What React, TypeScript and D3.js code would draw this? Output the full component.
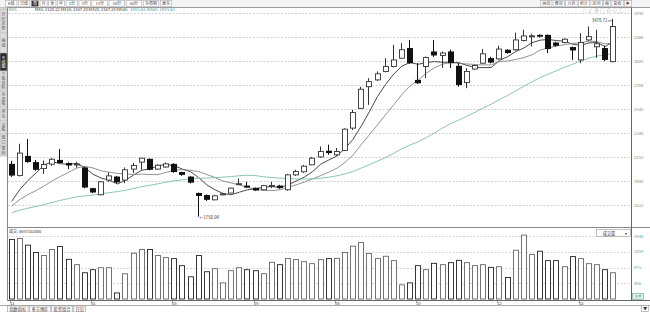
import React from "react";
import * as d3 from "d3";

const W = 650;
const H = 312;

// weekly OHLC
const opens = [
  2102, 2018, 2161, 2115, 2069, 2100, 2131, 2108, 2097, 2076,
  1932, 1888, 1987, 2011, 1987, 2064, 2115, 2139, 2064, 2079,
  2102, 2043, 2011, 1900, 1886, 1855, 1890, 1899, 1958, 1949,
  1934, 1921, 1947, 1949, 1921, 2023, 2045, 2095, 2153, 2200,
  2169, 2202, 2380, 2549, 2748, 2814, 2898, 2948, 3034, 3143,
  2814, 2948, 3106, 3063, 3106, 2955, 2787, 2922, 2982, 3035,
  3027, 3125, 3125, 3226, 3276, 3290, 3290, 3204, 3204, 3154,
  3016, 3233, 3157, 3143, 2998,
];
const highs = [
  2124, 2254, 2291, 2131, 2126, 2144, 2213, 2113, 2117, 2081,
  1934, 1980, 2040, 2016, 2076, 2108, 2146, 2142, 2099, 2111,
  2106, 2045, 2016, 1902, 1890, 1888, 1901, 1934, 1999, 1975,
  1936, 1954, 1975, 1954, 2030, 2059, 2095, 2153, 2233, 2247,
  2221, 2378, 2535, 2748, 2831, 2898, 3034, 3179, 3197, 3233,
  2982, 3052, 3233, 3106, 3125, 2982, 2932, 2965, 3132, 3049,
  3168, 3130, 3317, 3349, 3302, 3296, 3296, 3212, 3252, 3160,
  3310, 3388, 3349, 3168, 3478.72,
];
const lows = [
  2009, 2012, 2110, 2052, 2030, 2088, 2102, 2064, 2074, 1931,
  1898, 1885, 1975, 1965, 1965, 2035, 2059, 2056, 2059, 2074,
  2038, 2016, 1964, 1750.04, 1848, 1852, 1885, 1898, 1954, 1934,
  1914, 1917, 1932, 1927, 1914, 2016, 2038, 2092, 2146, 2169,
  2161, 2200, 2365, 2543, 2580, 2804, 2890, 2940, 3027, 2975,
  2774, 2831, 3048, 2932, 2932, 2748, 2734, 2915, 2975, 2980,
  3021, 3081, 3114, 3217, 3160, 3261, 3089, 3157, 3195, 3016,
  2982, 3222, 3038, 3005, 2990,
];
const closes = [
  2018, 2182, 2115, 2059, 2097, 2136, 2108, 2090, 2101, 1936,
  1903, 1975, 2016, 1971, 2059, 2090, 2144, 2059, 2092, 2102,
  2043, 2023, 1969, 1880, 1855, 1881, 1894, 1932, 1962, 1936,
  1916, 1949, 1950, 1932, 2023, 2047, 2085, 2144, 2194, 2182,
  2194, 2371, 2512, 2724, 2797, 2874, 2948, 3016, 3125, 2982,
  2781, 3041, 3063, 3089, 2982, 2764, 2898, 2958, 3081, 2988,
  3132, 3089, 3233, 3278, 3280, 3270, 3132, 3168, 3241, 3117,
  3204, 3270, 3190, 3016, 3388,
];
// closes of the weeks before the visible window (estimated from where the averages start)
const warmupCloses = [
  1720, 1735, 1748, 1730, 1712, 1725, 1744, 1760, 1752, 1738,
  1746, 1765, 1780, 1771, 1758, 1762, 1775, 1790, 1782, 1770,
  1776, 1788, 1795, 1784, 1790, 1797, 1805, 1798, 1808,
];
const volumes = [
  1841, 1872, 1663, 1435, 1342, 1529, 1622, 1226, 1061, 811,
  905, 967, 967, 187, 780, 1413, 1529, 1529, 1342, 1279,
  1248, 1030, 686, 1342, 842, 936, 499, 874, 967, 905,
  874, 780, 1133, 1061, 1248, 1217, 1154, 1092, 1217, 1248,
  1257, 1435, 1632, 1747, 1404, 1248, 1320, 1186, 437, 499,
  1030, 905, 1101, 1061, 1123, 1195, 1123, 1030, 1061, 977,
  998, 665, 1507, 1975, 1373, 1476, 1186, 1186, 998, 1310,
  1248, 1092, 1061, 905, 811,
];
const priceTicks = [3550, 3266, 3005, 2764, 2543, 2340, 2153, 1980, 1822];
const volTicks = [486, 973, 1459, 1946];
const monthIdx = [0, 10, 20, 30, 40, 50, 60, 70];
const monthLabels = ["11", "01", "03", "05", "08", "10", "12", "02"];
const maPeriods = [5, 10, 30];
const maColors = ["#1a1a1a", "#777777", "#6db5a8"];

const periodButtons = ["K线", "日线", "周", "月", "季", "年", "1分", "5分", "15分", "30分", "60分", "多周期", "更多"];
const rightButtons = ["画线", "叠加", "九转", "统计", "区间", "缩", "复权", "▶"];
const sideTabs = [
  { t: "应用", a: 0, b: 10, dark: false },
  { t: "分时走势", a: 10, b: 33, dark: false },
  { t: "画线", a: 33, b: 53, dark: false },
  { t: "K线图", a: 53, b: 71, dark: true },
  { t: "个股资料", a: 71, b: 91, dark: false },
  { t: "自选股", a: 91, b: 107, dark: false },
  { t: "排名", a: 107, b: 121, dark: false },
  { t: "诊股", a: 121, b: 134, dark: false },
  { t: "盘口", a: 134, b: 146, dark: false },
  { t: "筹码", a: 146, b: 156, dark: false },
];
const bottomTabs = ["指数指标", "多方博弈", "投资组合", "日记"];

const FONT = "'Noto Sans CJK SC', 'Noto Sans', sans-serif";

export default function App() {
  const n = closes.length;
  const x = d3.scalePoint<number>().domain(d3.range(n)).range([7.6, 617.35]).padding(0.5);
  const y = d3.scaleLog().domain([3550, 1822]).range([13, 205]);
  const vy = d3.scaleLinear().domain([0, 1946]).range([299, 236]);

  const all = warmupCloses.concat(closes);
  const off = warmupCloses.length;
  const maSeries = maPeriods.map((p) =>
    closes.map((_, i) => d3.mean(all.slice(off + i - p + 1, off + i + 1)) as number)
  );
  const line = d3
    .line<number>()
    .x((_, i) => x(i) as number)
    .y((v) => y(v));

  const hiIdx = d3.maxIndex(highs);
  const loIdx = d3.minIndex(lows);

  let bx = 5;
  const btns = periodButtons.map((t) => {
    const w = t.length * 4.2 + 3;
    const r = { t, x: bx, w };
    bx += w + 1.5;
    return r;
  });
  let rx = 540;
  const rbtns = rightButtons.map((t) => {
    const w = t.length * 4.2 + 3;
    const r = { t, x: rx, w };
    rx += w + 1.2;
    return r;
  });

  return (
    <svg width={W} height={H} style={{ display: "block", position: "absolute", left: 0, top: 0, background: "#fff" }} fontFamily={FONT}>
      <rect x={0} y={0} width={W} height={H} fill="#ffffff" />

      {/* top toolbar */}
      <rect x={0} y={0} width={W} height={7.5} fill="#f4f4f4" />
      {btns.map((b, i) => (
        <g key={"b" + i}>
          <rect x={b.x + 0.5} y={0.5} width={b.w} height={6} fill={b.t === "周" ? "#333" : "#fff"} stroke="#aaa" strokeWidth={0.6} />
          <text x={b.x + 0.5 + b.w / 2} y={5.3} fontSize={4} textAnchor="middle" fill={b.t === "周" ? "#fff" : "#444"}>{b.t}</text>
        </g>
      ))}
      {rbtns.map((b, i) => (
        <g key={"r" + i}>
          <rect x={b.x + 0.5} y={0.5} width={b.w} height={6} fill="#fff" stroke="#aaa" strokeWidth={0.6} />
          <text x={b.x + 0.5 + b.w / 2} y={5.3} fontSize={4} textAnchor="middle" fill="#555">{b.t}</text>
        </g>
      ))}
      <text x={582} y={12} fontSize={4.5} fill="#999" letterSpacing={1.6}>◇∠⊕○⊖◎□◯</text>
      <line x1={0} x2={W} y1={7.5} y2={7.5} stroke="#999" strokeWidth={1} />

      {/* side tabs */}
      <rect x={0} y={7.5} width={7} height={149} fill="#dcdcdc" />
      {sideTabs.map((s, i) => {
        const chars = s.t.split("");
        const a = Math.max(s.a, 7.5);
        const mid = (a + s.b) / 2;
        const step = Math.min(4.6, (s.b - a - 1) / chars.length);
        const fs = Math.min(4, step * 0.9);
        return (
          <g key={"s" + i}>
            <rect x={0} y={a} width={7} height={s.b - a} fill={s.dark ? "#2b2b2b" : "#dcdcdc"} stroke="#bbb" strokeWidth={0.5} />
            {chars.map((c, j) => (
              <text key={j} x={3.5} y={mid - ((chars.length - 1) * step) / 2 + j * step + fs * 0.38} fontSize={fs} textAnchor="middle" fill={s.dark ? "#fff" : "#555"}>{c}</text>
            ))}
          </g>
        );
      })}

      {/* info line */}
      <text x={8.5} y={11.3} fontSize={4} fill="#3c9a9a">MA5</text>
      <text x={35} y={11.3} fontSize={4} fill="#333" textLength={93} lengthAdjust="spacingAndGlyphs">MA5: 2128.22  MA10: 2167.20  MA20: 2167.20  MA30:</text>
      <text x={130} y={11.3} fontSize={4} fill="#3c9a9a" textLength={45} lengthAdjust="spacingAndGlyphs">1915.61  MA60: 1915.61</text>

      {/* price grid */}
      {priceTicks.map((t, i) => (
        <g key={"pt" + i}>
          <line x1={8} x2={631} y1={Math.round(y(t)) + 0.5} y2={Math.round(y(t)) + 0.5} stroke="#d2d2d2" strokeWidth={1} strokeDasharray="2,1.5" />
          <text x={634} y={y(t) + 1.6} fontSize={4.2} fill="#8a7f6a">{t}</text>
        </g>
      ))}

      {/* moving averages */}
      {maSeries.map((s, k) => (
        <path key={"ma" + k} d={line(s) as string} fill="none" stroke={maColors[k]} strokeWidth={0.8} />
      ))}

      {/* candles */}
      {closes.map((c, i) => {
        const cx = x(i) as number;
        const L = Math.round(cx - 3);
        const wx = L + 2.5;
        const o = opens[i];
        const up = c >= o;
        const yo = y(o);
        const yc = y(c);
        const top = Math.min(yo, yc);
        const bot = Math.max(yo, yc);
        const hgt = Math.max(bot - top, 1);
        if (up) {
          return (
            <g key={"c" + i}>
              <line x1={wx} x2={wx} y1={y(highs[i])} y2={top} stroke="#333" strokeWidth={1} />
              <line x1={wx} x2={wx} y1={top + hgt} y2={y(lows[i])} stroke="#333" strokeWidth={1} />
              <rect x={L + 0.5} y={top} width={5} height={hgt} fill="#fff" stroke="#333" strokeWidth={0.9} />
            </g>
          );
        }
        return (
          <g key={"c" + i}>
            <line x1={wx} x2={wx} y1={y(highs[i])} y2={y(lows[i])} stroke="#111" strokeWidth={1} />
            <rect x={L} y={top} width={6} height={hgt} fill="#111" />
          </g>
        );
      })}

      {/* extreme annotations */}
      <text x={(x(hiIdx) as number) - 6} y={y(highs[hiIdx]) + 3.5} fontSize={4.3} textAnchor="end" fill="#333">{highs[hiIdx].toFixed(2)}</text>
      <line x1={(x(hiIdx) as number) - 5.5} x2={(x(hiIdx) as number) - 0.5} y1={y(highs[hiIdx]) + 2} y2={y(highs[hiIdx]) + 2} stroke="#333" strokeWidth={0.6} />
      <text x={(x(loIdx) as number) + 0.5} y={y(lows[loIdx]) + 2.4} fontSize={4.3} fill="#333">{"←" + lows[loIdx].toFixed(2)}</text>

      {/* panel separator */}
      <line x1={7.5} x2={W} y1={227.5} y2={227.5} stroke="#888" strokeWidth={1} />

      {/* volume panel */}
      <text x={9} y={233} fontSize={4} fill="#333">成交: 8657102000</text>
      {volTicks.map((t, i) => (
        <g key={"vt" + i}>
          <line x1={8} x2={631} y1={Math.round(vy(t)) + 0.5} y2={Math.round(vy(t)) + 0.5} stroke="#d4d4d4" strokeWidth={1} strokeDasharray="2,1.5" />
          <text x={634} y={vy(t) + 1.6} fontSize={4.2} fill="#5aa89a">{t}</text>
        </g>
      ))}
      <rect x={632.5} y={293.5} width={11} height={6} fill="#e8f4f1" stroke="#5aa89a" strokeWidth={0.6} />
      <text x={638} y={298.2} fontSize={3.8} textAnchor="middle" fill="#3c8a7c">万手</text>
      {volumes.map((v, i) => {
        const cx = x(i) as number;
        const L = Math.round(cx - 3);
        return (
          <rect key={"v" + i} x={L + 0.5} y={vy(v)} width={5} height={vy(0) - vy(v)} fill="#fff" stroke={closes[i] >= opens[i] ? "#666" : "#222"} strokeWidth={0.9} />
        );
      })}
      <rect x={596.5} y={229.5} width={34} height={7} fill="#fff" stroke="#999" strokeWidth={0.6} />
      <text x={609} y={234.6} fontSize={4.2} fill="#333" textAnchor="middle">成交量</text>
      <text x={626} y={234.6} fontSize={3.8} fill="#333" textAnchor="middle">▾</text>

      {/* axes frame */}
      <line x1={7.5} x2={7.5} y1={7.5} y2={300.5} stroke="#888" strokeWidth={1} />
      <line x1={631.5} x2={631.5} y1={7.5} y2={300.5} stroke="#666" strokeWidth={1} />
      <line x1={7.5} x2={W} y1={300.5} y2={300.5} stroke="#666" strokeWidth={1} />
      {monthIdx.map((m, i) => {
        const cx = Math.round(x(m) as number) + 0.5;
        return (
          <g key={"m" + i}>
            <line x1={cx - 2} x2={cx - 2} y1={300.5} y2={303} stroke="#666" strokeWidth={0.6} />
            <text x={cx - 2.5} y={305} fontSize={4.2} fill="#333">{monthLabels[i]}</text>
          </g>
        );
      })}

      {/* bottom tabs */}
      <line x1={0} x2={W} y1={305.5} y2={305.5} stroke="#999" strokeWidth={0.8} />
      {(() => {
        let tx = 7.5;
        return bottomTabs.map((t, i) => {
          const w = t.length * 4.4 + 3;
          const r = (
            <g key={"bt" + i}>
              <rect x={tx} y={306} width={w} height={6} fill="#fff" stroke="#999" strokeWidth={0.6} />
              <text x={tx + w / 2} y={310.8} fontSize={4.2} textAnchor="middle" fill="#333">{t}</text>
            </g>
          );
          tx += w + 1.5;
          return r;
        });
      })()}
      <rect x={641.5} y={305.5} width={7} height={6} fill="#fff" stroke="#999" strokeWidth={0.6} />
      <text x={645} y={310.3} fontSize={4.2} textAnchor="middle" fill="#333">▼</text>
    </svg>
  );
}
